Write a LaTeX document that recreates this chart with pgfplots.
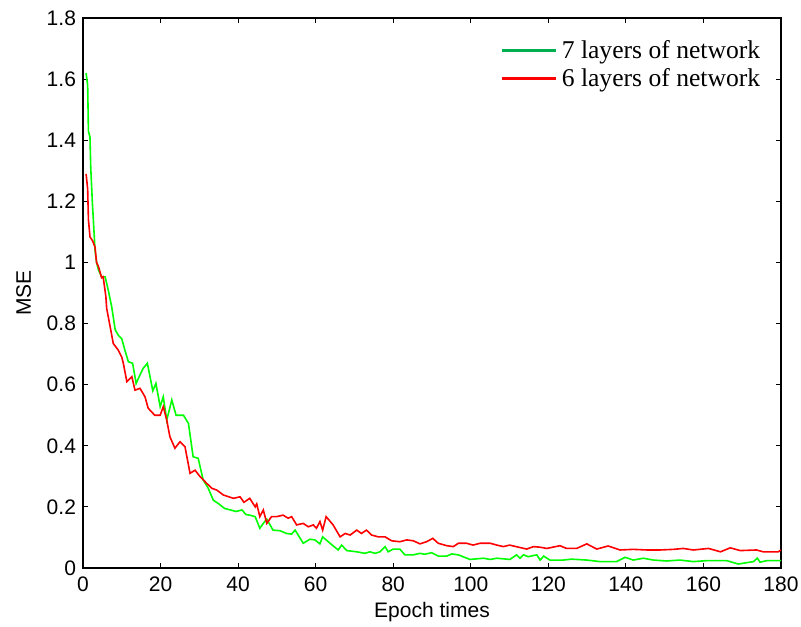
\documentclass[border=0pt]{standalone}
\usepackage{fontspec}
\setmainfont{Liberation Sans}
\newfontfamily\timesfont{Liberation Serif}
\usepackage{pgfplots}
\pgfplotsset{compat=1.18}
\definecolor{pgreen}{RGB}{0,255,0}
\definecolor{lgreen}{RGB}{0,176,80}
\definecolor{pred}{RGB}{255,0,0}
\begin{document}
\begin{tikzpicture}
\begin{axis}[
  scale only axis, width=349pt, height=275pt,
  xmin=0, xmax=180, ymin=0, ymax=1.8,
  xtick={0,20,...,180}, ytick={0,0.2,...,1.8},
  tick align=inside, tick pos=both,
  major tick length=2.5pt,
  tick style={black, line width=0.5pt},
  axis line style={line width=0.6pt},
  /pgf/number format/assume math mode=true,
  ticklabel style={font=\fontsize{10.5}{12}\selectfont},
  xticklabel style={yshift=-1pt},
  xlabel={Epoch times}, ylabel={MSE},
  label style={font=\fontsize{10.5}{12}\selectfont},
  xlabel style={yshift=1.5pt},
  ylabel style={yshift=1pt},
  legend style={draw=none, fill=none, at={(0.985,0.975)}, anchor=north east,
    font=\timesfont\fontsize{12.8}{14}\selectfont, row sep=-0.5pt},
  legend cell align=left,
  legend image code/.code={\draw[#1, line width=1.5pt] (0pt,0pt) -- (27pt,0pt);},
  every axis plot/.append style={line width=0.8pt},
]
\addlegendimage{color=lgreen}
\addlegendentry{7 layers of network}
\addlegendimage{color=pred}
\addlegendentry{6 layers of network}
\addplot[pgreen, forget plot] coordinates {
(0.8,1.62)(1.2,1.58)(1.4,1.43)(1.8,1.41)(2.0,1.31)(2.4,1.20)(2.8,1.11)(3.1,1.04)(3.5,1.0)(4.0,0.975)(4.8,0.953)(5.7,0.953)(6.5,0.91)(7.4,0.855)(8.3,0.78)(9.1,0.762)(10,0.75)(10.8,0.713)(11.7,0.675)(12.8,0.67)(13.7,0.604)(14.7,0.632)(15.5,0.653)(16.6,0.67)(18,0.58)(18.8,0.604)(19.9,0.528)(20.7,0.56)(21.6,0.484)(22.9,0.55)(24,0.5)(25.9,0.5)(27.2,0.473)(28.4,0.364)(29.7,0.359)(31,0.288)(32.3,0.261)(33.6,0.222)(35,0.21)(36.5,0.195)(38,0.19)(39.5,0.185)(41,0.19)(42,0.175)(43,0.173)(44.4,0.168)(45.6,0.13)(46.5,0.146)(47.4,0.16)(49,0.124)(50.8,0.122)(52.5,0.113)(53.8,0.111)(54.7,0.124)(56.8,0.081)(58.5,0.094)(59.8,0.092)(61.1,0.079)(61.8,0.102)(63.7,0.081)(65.8,0.059)(66.7,0.075)(68,0.057)(70.6,0.053)(72.7,0.048)(74,0.053)(75.3,0.048)(76.6,0.053)(77.9,0.07)(78.7,0.053)(80,0.062)(81.7,0.062)(83,0.043)(85.2,0.043)(86.9,0.048)(88.1,0.045)(89.9,0.05)(91.6,0.039)(93.8,0.039)(95.1,0.046)(96.8,0.043)(99.8,0.028)(103.3,0.032)(105,0.028)(106.7,0.032)(110.1,0.028)(111.8,0.043)(112.7,0.032)(113.6,0.043)(114.8,0.037)(117,0.043)(117.9,0.026)(118.8,0.039)(120.4,0.026)(123.9,0.026)(126,0.029)(129.9,0.026)(133.3,0.021)(137.6,0.021)(139.8,0.035)(141.9,0.026)(144.5,0.032)(147.1,0.026)(150.5,0.023)(153.9,0.026)(157.4,0.021)(160.8,0.024)(166,0.024)(169,0.013)(172.9,0.021)(173.9,0.032)(174.6,0.019)(176.3,0.024)(180,0.024)
};
\addplot[pred, forget plot] coordinates {
(0.8,1.29)(1.2,1.24)(1.4,1.14)(1.8,1.084)(2.5,1.07)(3.1,1.05)(3.5,1.0)(4.0,0.986)(4.8,0.95)(5.2,0.953)(5.9,0.888)(6.1,0.85)(7,0.79)(7.8,0.735)(9.1,0.713)(10,0.69)(10.4,0.67)(11.3,0.61)(12.6,0.626)(13.4,0.582)(14.7,0.588)(16,0.56)(16.8,0.523)(18.5,0.5)(19.9,0.5)(20.7,0.528)(21.6,0.484)(22.4,0.43)(23.7,0.392)(25,0.413)(26.3,0.397)(27.6,0.31)(28.9,0.32)(30.2,0.299)(31.9,0.277)(33.2,0.261)(34.5,0.255)(36.2,0.239)(38.8,0.228)(40.5,0.233)(41.5,0.215)(43,0.228)(44.4,0.2)(44.8,0.21)(45.6,0.168)(46.5,0.19)(47.4,0.146)(48.6,0.168)(49.9,0.168)(51.6,0.173)(52.9,0.163)(53.8,0.168)(55.1,0.141)(56.8,0.146)(58.1,0.135)(59.4,0.141)(60.2,0.13)(61.1,0.152)(61.8,0.124)(62.7,0.168)(64.5,0.141)(66.3,0.102)(67.6,0.113)(68.9,0.108)(70.6,0.124)(71.8,0.113)(73.1,0.124)(74.4,0.108)(76.1,0.102)(77.9,0.102)(79.6,0.089)(81.7,0.086)(83.5,0.092)(85.2,0.089)(86.9,0.079)(88.6,0.086)(90.2,0.097)(91.6,0.081)(93.8,0.073)(95.5,0.07)(96.8,0.081)(98.9,0.081)(100.6,0.075)(102.4,0.081)(105,0.081)(106.7,0.075)(108.4,0.07)(110,0.075)(112.7,0.067)(114.4,0.062)(116.2,0.07)(117.9,0.068)(119.6,0.064)(123,0.073)(124.7,0.064)(127.3,0.064)(129.9,0.079)(132.5,0.062)(135.4,0.072)(138.5,0.059)(141.9,0.061)(145.4,0.059)(148.8,0.059)(152.3,0.061)(154.8,0.064)(157.4,0.059)(161.3,0.064)(164.4,0.053)(166.9,0.066)(169.5,0.057)(173.7,0.059)(175.4,0.053)(179.3,0.053)(180,0.059)
};
\end{axis}
\pgfresetboundingbox
\useasboundingbox (-41.5pt,-29pt) rectangle (359pt,284pt);
\end{tikzpicture}
\end{document}
